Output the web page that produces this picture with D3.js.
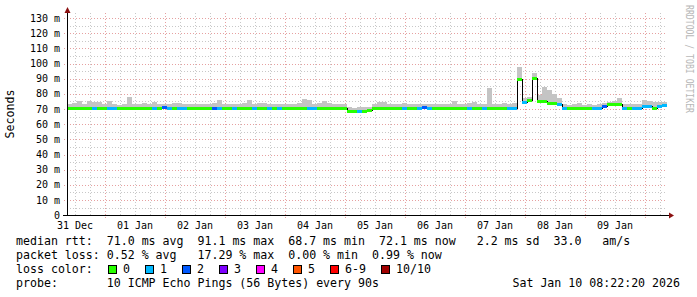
<!DOCTYPE html>
<html>
<head>
<meta charset="utf-8">
<script src="https://cdn.jsdelivr.net/npm/d3@7"></script>
<style>
html,body{margin:0;padding:0;background:#fff;}
svg{display:block;}
text{font-family:"DejaVu Sans Mono",monospace;white-space:pre;}
</style>
</head>
<body>
<svg id="chart" width="697" height="297"></svg>
<script>
// ---- data (2-hour bins starting 31 Dec 08:48) ----
const yTickValues = [0,10,20,30,40,50,60,70,80,90,100,110,120,130];
const yTickLabels = ["0","10 m","20 m","30 m","40 m","50 m","60 m","70 m","80 m","90 m","100 m","110 m","120 m","130 m"];
const dayLabels = ["31 Dec","01 Jan","02 Jan","03 Jan","04 Jan","05 Jan","06 Jan","07 Jan","08 Jan","09 Jan"];

const medianRtt = [
70.5,70.5,70.6,70.5,70.5, 70.5,70.6,70.5,70.5,70.5,
70.5,70.6,70.5,70.5,70.5, 70.6,70.5,70.5,70.5,71.6,
70.6,70.5,70.5,70.5,70.5, 70.5,70.6,70.5,70.5,70.8,
70.5,70.5,70.6,70.5,70.5, 70.5,70.5,70.6,70.5,70.5,
70.5,70.5,70.5,70.6,70.5, 70.5,70.5,70.5,70.6,70.5,
70.5,70.5,70.5,70.5,70.6, 70.5,69.0,68.8,68.8,68.9,
69.1,70.5,70.6,70.5,70.5, 70.5,70.5,70.6,70.5,70.5,
70.6,71.4,70.6,70.5,70.5, 70.5,70.5,70.6,70.5,70.5,
70.6,70.5,70.5,70.6,70.5, 70.5,70.5,70.6,70.6,70.7,
90.0,74.8,76.2,90.2,75.0, 75.0,73.8,73.8,73.5,70.6,
70.6,70.5,70.5,70.6,70.5, 70.6,70.6,71.8,73.2,73.2,
73.2,70.6,70.6,70.6,70.6, 72.2,72.2,70.5,72.0,72.5
];
const lossCount = [
0,0,0,0,0,1,0,0,1,1,
0,0,0,0,0,0,0,1,0,2,
1,0,1,1,0,0,0,0,0,2,
1,0,0,1,0,0,0,1,0,0,
1,0,1,0,0,0,0,0,1,1,
0,0,0,0,0,0,0,0,1,0,
0,0,0,0,0,0,0,1,0,0,
1,2,1,0,0,0,0,0,0,0,
1,0,0,1,0,0,0,0,1,1,
0,1,0,0,0,0,0,0,1,1,
0,0,0,0,0,1,1,2,0,0,
0,1,0,1,1,1,1,0,1,1
];
const smokeMax = [
73.0,73.8,75.3,73.5,75.2, 74.5,74.5,73.2,75.5,73.0,
72.8,73.2,78.2,73.0,73.5, 74.0,73.2,74.5,73.0,73.5,
73.0,74.0,74.0,73.2,73.0, 73.5,73.2,73.0,73.4,74.0,
76.0,73.2,73.0,73.5,73.0, 74.0,76.0,73.2,74.0,73.8,
73.0,73.0,73.5,73.0,73.2, 73.0,74.0,76.6,76.0,73.5,
74.0,75.3,74.0,73.0,73.5, 73.0,71.5,71.0,71.5,71.2,
71.5,73.0,74.8,74.5,73.0, 73.5,73.0,74.0,73.2,73.0,
73.5,73.0,73.5,73.0,73.2, 73.5,73.0,75.5,73.0,73.2,
74.0,74.8,73.2,73.5,83.6, 73.5,73.0,74.0,73.5,73.8,
98.0,77.0,78.0,93.5,79.0, 84.7,82.5,80.0,77.0,73.0,
72.5,73.0,74.0,72.5,73.0, 72.8,73.5,74.0,74.8,75.0,
77.4,73.0,73.5,73.0,73.2, 76.0,75.5,74.8,74.5,74.8
];
const lossLabels = ["0","1","2","3","4","5","6-9","10/10"];
const lossColors = ["#26ff00","#00b8ff","#0059ff","#7e00ff","#ff00ff","#ff5500","#ff0000","#a10000"];
const legendRtt  = "median rtt:  71.0 ms avg  91.1 ms max  68.7 ms min  72.1 ms now   2.2 ms sd  33.0   am/s";
const legendLoss = "packet loss: 0.52 % avg   17.29 % max  0.00 % min  0.99 % now";
const legendProbe = "probe:       10 ICMP Echo Pings (56 Bytes) every 90s";
const stampText = "Sat Jan 10 08:22:20 2026";
const watermark = "RRDTOOL / TOBI OETIKER";

// ---- layout ----
const svg = d3.select("#chart");
const L = 67, R = 667, B = 215.2, T = 13;
const start = new Date(Date.UTC(2025,11,31,8,48));
const end = new Date(Date.UTC(2026,0,10,8,48));
const x = d3.scaleUtc().domain([start,end]).range([L,R]);
const y = d3.scaleLinear().domain([0,133.3]).range([B,T]);
const binMs = 2*3600*1000;
const binStart = i => new Date(start.getTime()+i*binMs);
const colorIdx = c => c<=5 ? c : (c<10 ? 6 : 7);

const g = svg.append("g");
// minor horizontal grid (every 5)
const minorY = d3.range(5,135,10);
g.selectAll(".hmin").data(minorY).join("line")
  .attr("x1",L).attr("x2",R).attr("y1",d=>Math.round(y(d))+0.5).attr("y2",d=>Math.round(y(d))+0.5)
  .attr("stroke","#c8c8c8").attr("stroke-dasharray","1,2").attr("shape-rendering","crispEdges");
// minor vertical grid (every 6 h)
const minorX = d3.utcHour.every(6).range(start,end).filter(d=>d.getUTCHours()!==0);
g.selectAll(".vmin").data(minorX).join("line")
  .attr("x1",d=>Math.round(x(d))+0.5).attr("x2",d=>Math.round(x(d))+0.5).attr("y1",T).attr("y2",B)
  .attr("stroke","#c8c8c8").attr("stroke-dasharray","1,2").attr("shape-rendering","crispEdges");
// major horizontal grid
g.selectAll(".hmaj").data(yTickValues.slice(1)).join("line")
  .attr("x1",L-3).attr("x2",R).attr("y1",d=>Math.round(y(d))+0.5).attr("y2",d=>Math.round(y(d))+0.5)
  .attr("stroke","#e6a0a0").attr("stroke-dasharray","1,2").attr("shape-rendering","crispEdges");
// major vertical grid (days)
const majorX = d3.utcDay.range(start,end);
g.selectAll(".vmaj").data(majorX).join("line")
  .attr("x1",d=>Math.round(x(d))+0.5).attr("x2",d=>Math.round(x(d))+0.5).attr("y1",T).attr("y2",B+3)
  .attr("stroke","#e6a0a0").attr("stroke-dasharray","1,2").attr("shape-rendering","crispEdges");

// smoke
const bins = d3.range(medianRtt.length);
g.selectAll(".smoke").data(bins).join("rect")
  .attr("x",i=>x(binStart(i))).attr("width",i=>x(binStart(i+1))-x(binStart(i)))
  .attr("y",i=>y(smokeMax[i])).attr("height",i=>y(medianRtt[i]-1)-y(smokeMax[i]))
  .attr("fill","#c4c4c4").attr("shape-rendering","crispEdges");

// black median step line
const stepPts = bins.map(i=>[binStart(i),medianRtt[i]]);
stepPts.push([binStart(bins.length),medianRtt[bins.length-1]]);
g.append("path").datum(stepPts)
  .attr("d",d3.line().x(d=>x(d[0])).y(d=>Math.round(y(d[1]))+0.5).curve(d3.curveStepAfter))
  .attr("fill","none").attr("stroke","#000").attr("stroke-width",1).attr("shape-rendering","crispEdges");

// colored median segments
g.selectAll(".med").data(bins).join("rect")
  .attr("x",i=>x(binStart(i))).attr("width",i=>x(binStart(i+1))-x(binStart(i)))
  .attr("y",i=>Math.round(y(medianRtt[i]))-1).attr("height",3)
  .attr("fill",i=>lossColors[colorIdx(lossCount[i])]).attr("shape-rendering","crispEdges");

// axes
g.append("line").attr("x1",L+0.5).attr("x2",L+0.5).attr("y1",B).attr("y2",10)
  .attr("stroke","#000").attr("shape-rendering","crispEdges");
g.append("line").attr("x1",L-4).attr("x2",R+2).attr("y1",Math.round(B)+0.5).attr("y2",Math.round(B)+0.5)
  .attr("stroke","#000").attr("shape-rendering","crispEdges");
g.append("path").attr("d",`M${L-2.5},${13}L${L+3.5},${13}L${L+0.5},${7}Z`).attr("fill","#8b1010");
g.append("path").attr("d",`M${R+2},${Math.round(B)-2.5}L${R+2},${Math.round(B)+3.5}L${R+7},${Math.round(B)+0.5}Z`).attr("fill","#8b1010");

// y labels
g.selectAll(".ylab").data(yTickValues).join("text")
  .attr("x",60).attr("y",d=>y(d)+3.5).attr("text-anchor","end")
  .attr("font-size","10px").attr("fill","#000").text((d,i)=>yTickLabels[i]);
// x labels
g.selectAll(".xlab").data(dayLabels).join("text")
  .attr("x",(d,i)=>x(new Date(Date.UTC(2025,11,31+i,12))))
  .attr("y",229).attr("text-anchor","middle").attr("font-size","10px").attr("fill","#000").text(d=>d);

// titles
svg.append("text").attr("transform","translate(14,114) rotate(-90)").attr("text-anchor","middle")
  .attr("font-size","11.6px").attr("fill","#000").text("Seconds");
svg.append("text").attr("transform","translate(685.5,5) rotate(90)")
  .attr("font-size","10.5px").attr("fill","#b8b8b8")
  .attr("textLength",108).attr("lengthAdjust","spacingAndGlyphs").text(watermark);

// legend
const lg = svg.append("g").attr("font-size","11.6px").attr("fill","#000");
lg.append("text").attr("x",16).attr("y",244.5).text(legendRtt);
lg.append("text").attr("x",16).attr("y",258.5).text(legendLoss);
lg.append("text").attr("x",16).attr("y",272.5).text("loss color:");
lg.append("text").attr("x",16).attr("y",286.5).text(legendProbe);
lg.append("text").attr("x",680).attr("y",286.5).attr("text-anchor","end").text(stampText);
let cx = 108;
lossLabels.forEach((lab,k)=>{
  lg.append("rect").attr("x",cx+0.5).attr("y",265.5).attr("width",8).attr("height",8)
    .attr("fill",lossColors[k]).attr("stroke","#000").attr("stroke-width",1).attr("shape-rendering","crispEdges");
  lg.append("text").attr("x",cx+15).attr("y",272.5).text(lab);
  cx += 30 + 7*lab.length;
});
</script>
</body>
</html>
